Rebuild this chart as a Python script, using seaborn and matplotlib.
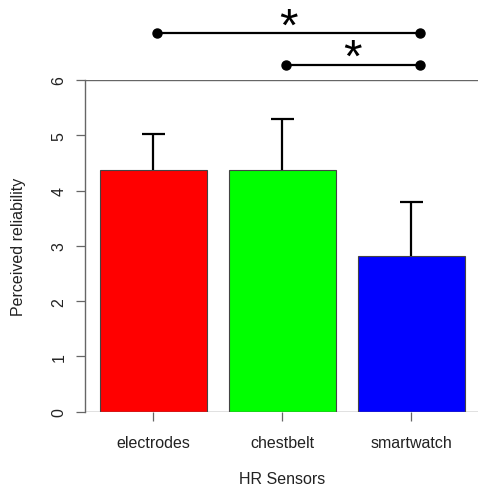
import pandas as pd
import seaborn as sns
import matplotlib.pyplot as plt

sensors = ['electrodes', 'chestbelt', 'smartwatch']
reliability = [4.37, 4.37, 2.82]
upper_err = [0.66, 0.92, 0.98]
bar_colors = ['#ff0000', '#00ff00', '#0000ff']
y_ticks = [0, 1, 2, 3, 4, 5, 6]

# significance brackets between sensors (index of first / second bar)
sig_from = [0, 1]
sig_to = [2, 2]
sig_line_y = [6.85, 6.28]
sig_star_y = [6.95, 6.39]

sns.set_theme(style='white')
plt.rcParams['font.family'] = ['Liberation Sans', 'DejaVu Sans']

axis_gray = '#666666'

fig = plt.figure(figsize=(4.78, 4.89), dpi=100)
ax = fig.add_axes([0.1785, 0.156, 0.8215, 0.6783])

df = pd.DataFrame({'sensor': sensors, 'reliability': reliability})
sns.barplot(data=df, x='sensor', y='reliability', hue='sensor',
            palette=bar_colors, saturation=1, width=0.833, errorbar=None,
            legend=False, edgecolor='#444444', linewidth=0.8, ax=ax)

# upper error bars only, with caps
for i, (m, e) in enumerate(zip(reliability, upper_err)):
    ax.vlines(i, m, m + e, color='black', linewidth=1.6, zorder=3)
    ax.hlines(m + e, i - 0.09, i + 0.09, color='black', linewidth=1.6,
              zorder=3)

# significance markers above the plot
for s, t, ly, sy in zip(sig_from, sig_to, sig_line_y, sig_star_y):
    x0 = s + 0.025
    x1 = t + 0.07
    ax.plot([x0, x1], [ly, ly], '-o', color='black', linewidth=1.6,
            markersize=6.5, clip_on=False, zorder=4)
    ax.text((x0 + x1) / 2, sy, '*', fontsize=34, ha='center',
            va='center', color='black', clip_on=False)

ax.set_xlim(-0.527, 2.517)
ax.set_ylim(0, 6)
ax.set_yticks(y_ticks)
ax.set_yticklabels([str(v) for v in y_ticks], rotation=90, va='center')

ax.axhline(0, color=axis_gray, linewidth=1)
ax.axhline(6, color=axis_gray, linewidth=1)

for side in ['top', 'right', 'bottom']:
    ax.spines[side].set_visible(False)
ax.spines['left'].set_color(axis_gray)
ax.spines['left'].set_linewidth(1)

ax.tick_params(axis='both', direction='out', length=6.5, width=0.9,
               color=axis_gray, labelsize=11.5, labelcolor='#222222',
               left=True, bottom=True)
ax.tick_params(axis='x', pad=10)
ax.tick_params(axis='y', pad=7)

ax.set_xlabel('HR Sensors', fontsize=11.5, color='#222222')
ax.set_ylabel('Perceived reliability', fontsize=11.5, color='#222222')
ax.xaxis.label.set_va('center')
ax.yaxis.label.set_va('center')
ax.xaxis.set_label_coords(0.5, -0.2008)
ax.yaxis.set_label_coords(-0.1706, 0.5)

plt.savefig('out.png', dpi=100)
